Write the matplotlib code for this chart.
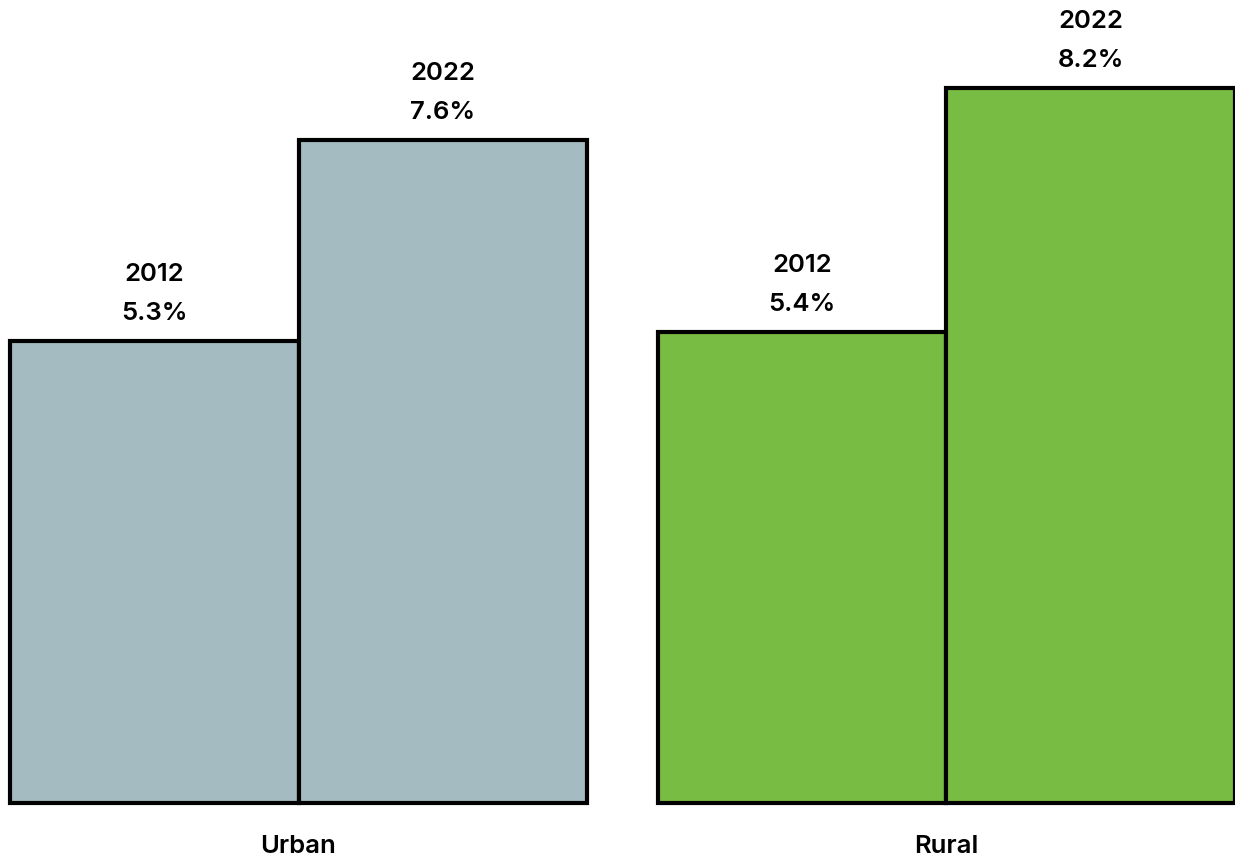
import matplotlib
matplotlib.use("Agg")
import matplotlib.pyplot as plt

plt.rcParams["font.family"] = ["Inter", "DejaVu Sans"]

# -----
# DATA
# -----
groups = ["Urban", "Rural"]
years = ["2012", "2022"]
urban_values = [5.3, 7.6]
rural_values = [5.4, 8.2]
group_colors = ["#A4BBC2", "#78BC44"]

# -------
# LAYOUT
# -------
bar_width = 1.0
group_gap = 0.246
y_zero_px = 58
px_per_unit = 87.2

fig = plt.figure(figsize=(12.35, 8.61), dpi=100)
ax = fig.add_axes([0, 0, 1, 1])

x_left = -10 / 288.5
ax.set_xlim(x_left, x_left + 1235 / 288.5)
ax.set_ylim(-y_zero_px / px_per_unit, (861 - y_zero_px) / px_per_unit)
ax.axis("off")

for g, (group, values) in enumerate(zip(groups, [urban_values, rural_values])):
    start = g * (2 * bar_width + group_gap)
    centers = [start + bar_width * (i + 0.5) for i in range(len(values))]
    ax.bar(centers, values, width=bar_width, color=group_colors[g],
           edgecolor="black", linewidth=3, clip_on=False)

    for x, v, year in zip(centers, values, years):
        ax.annotate(f"{v}%", (x, v), xytext=(0, 20), textcoords="offset points",
                    ha="center", va="center", fontsize=18.5, fontweight="semibold")
        ax.annotate(year, (x, v), xytext=(0, 48), textcoords="offset points",
                    ha="center", va="center", fontsize=18.5, fontweight="semibold")

    ax.annotate(group, (start + bar_width, 0), xytext=(0, -31.5), textcoords="offset points",
                ha="center", va="center", fontsize=18.5, fontweight="semibold")

fig.savefig("out.png", dpi=100)
